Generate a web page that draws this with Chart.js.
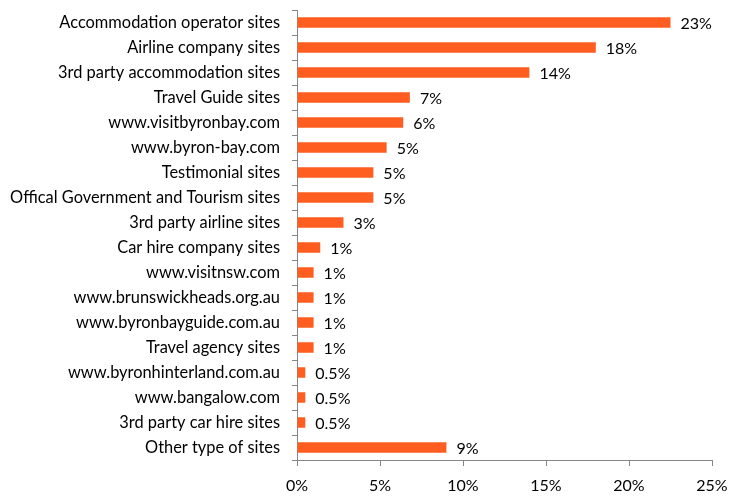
<!DOCTYPE html>
<html lang="en">
<head>
    <meta charset="UTF-8">
    <title>Website types used</title>
    <script src="https://cdn.jsdelivr.net/npm/chart.js"></script>
    <style>
        html, body {
            margin: 0;
            padding: 0;
            background: #fff;
        }
        .chart-box {
            width: 729px;
            height: 497px;
        }
    </style>
</head>
<body>
    <div class="chart-box">
        <canvas id="sitesChart"></canvas>
    </div>

    <script>
        // Data
        const categories = [
            'Accommodation operator sites',
            'Airline company sites',
            '3rd party accommodation sites',
            'Travel Guide sites',
            'www.visitbyronbay.com',
            'www.byron-bay.com',
            'Testimonial sites',
            'Offical Government and Tourism sites',
            '3rd party airline sites',
            'Car hire company sites',
            'www.visitnsw.com',
            'www.brunswickheads.org.au',
            'www.byronbayguide.com.au',
            'Travel agency sites',
            'www.byronhinterland.com.au',
            'www.bangalow.com',
            '3rd party car hire sites',
            'Other type of sites'
        ];
        const shares = [22.5, 18, 14, 6.8, 6.4, 5.4, 4.6, 4.6, 2.8, 1.4, 1.0, 1.0, 1.0, 1.0, 0.5, 0.5, 0.5, 9.0];
        const shareLabels = ['23%', '18%', '14%', '7%', '6%', '5%', '5%', '5%', '3%', '1%', '1%', '1%', '1%', '1%', '0.5%', '0.5%', '0.5%', '9%'];
        const xTicks = [0, 5, 10, 15, 20, 25];

        const fontFamily = 'Lato, "Liberation Sans", sans-serif';
        const axisGrey = '#868686';

        // writes the value label just after the end of each bar
        const valueLabels = {
            id: 'valueLabels',
            afterDatasetsDraw(chart) {
                const ctx = chart.ctx;
                const meta = chart.getDatasetMeta(0);
                ctx.save();
                ctx.font = '16px ' + fontFamily;
                ctx.fillStyle = '#000';
                ctx.textAlign = 'left';
                ctx.textBaseline = 'middle';
                meta.data.forEach(function(bar, i) {
                    ctx.fillText(shareLabels[i], bar.x + 10, bar.y + 1);
                });
                ctx.restore();
            }
        };

        const ctx = document.getElementById('sitesChart').getContext('2d');
        const sitesChart = new Chart(ctx, {
            type: 'bar',
            data: {
                labels: categories,
                datasets: [{
                    data: shares,
                    backgroundColor: '#FF5E20',
                    borderWidth: 0,
                    categoryPercentage: 1,
                    barPercentage: 0.42
                }]
            },
            options: {
                indexAxis: 'y',
                responsive: true,
                maintainAspectRatio: false,
                animation: false,
                layout: {
                    padding: { top: 10, right: 17, left: 0, bottom: 0 }
                },
                plugins: {
                    legend: { display: false },
                    tooltip: { enabled: false }
                },
                scales: {
                    x: {
                        min: 0,
                        max: 25,
                        afterBuildTicks: function(axis) {
                            axis.ticks = xTicks.map(function(v) { return { value: v }; });
                        },
                        afterFit: function(axis) {
                            axis.height = 37;
                            axis.paddingLeft = 0;
                            axis.paddingRight = 0;
                        },
                        border: { display: true, color: axisGrey, width: 1 },
                        grid: {
                            drawOnChartArea: false,
                            drawTicks: true,
                            tickLength: 6,
                            color: axisGrey
                        },
                        ticks: {
                            color: '#000',
                            padding: 10,
                            maxRotation: 0,
                            font: { family: fontFamily, size: 16 },
                            callback: function(v) { return v + '%'; }
                        }
                    },
                    y: {
                        afterFit: function(axis) {
                            axis.width = 297;
                            axis.paddingTop = 0;
                            axis.paddingBottom = 0;
                        },
                        border: { display: true, color: axisGrey, width: 1 },
                        grid: {
                            offset: true,
                            drawOnChartArea: false,
                            drawTicks: true,
                            tickLength: 5,
                            color: axisGrey
                        },
                        ticks: {
                            color: '#000',
                            padding: 12,
                            autoSkip: false,
                            font: { family: fontFamily, size: 16.4 }
                        }
                    }
                }
            },
            plugins: [valueLabels]
        });
    </script>
</body>
</html>
